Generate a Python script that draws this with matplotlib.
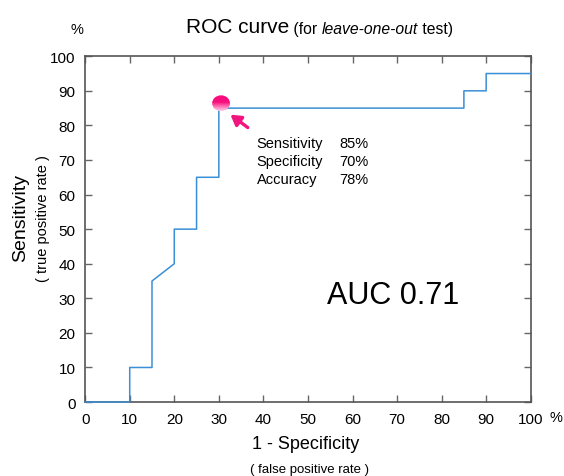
import matplotlib
matplotlib.use("Agg")
import matplotlib.pyplot as plt
import numpy as np
from matplotlib.patches import Ellipse
from matplotlib.colors import LinearSegmentedColormap

plt.rcParams['font.family'] = ['Liberation Sans', 'DejaVu Sans']

# ROC step curve (percent)
fpr = [0, 10, 10, 15, 15, 20, 20, 25, 25, 30, 30, 85, 85, 90, 90, 100]
tpr = [0, 0, 10, 10, 35, 40, 50, 50, 65, 65, 85, 85, 90, 90, 95, 95]
best_point = (30, 85)
stat_names = ["Sensitivity", "Specificity", "Accuracy"]
stat_values = ["85%", "70%", "78%"]
auc = 0.71

fig = plt.figure(figsize=(5.64, 4.77), dpi=100)
ax = fig.add_axes([0.151, 0.155, 0.790, 0.725])

ax.plot(fpr, tpr, color="#3a8fd6", lw=1.1, clip_on=False, zorder=3)

# gradient ball marking the chosen operating point
cx, cy = best_point[0] + 0.5, best_point[1] + 1.4
w, h = 4.0, 4.6
cmap = LinearSegmentedColormap.from_list("ball", [(0, "#ffd0e8"), (0.35, "#ff5aa8"),
                                                  (0.55, "#f5107c"), (1, "#ff0a80")])
grad = np.linspace(0, 1, 64).reshape(-1, 1)
im = ax.imshow(grad, cmap=cmap, extent=(cx - w / 2, cx + w / 2, cy - h / 2, cy + h / 2),
               origin="lower", aspect="auto", zorder=5, clip_on=True)
ell = Ellipse((cx, cy), w, h, transform=ax.transData, facecolor="none", edgecolor="none")
ax.add_patch(ell)
im.set_clip_path(ell)

ax.annotate("", xy=(32.1, 83.6), xytext=(37, 78.9),
            arrowprops=dict(arrowstyle="-|>,head_length=0.5,head_width=0.3",
                            color="#f0157f", lw=2.4, mutation_scale=12))

for i, (n, v) in enumerate(zip(stat_names, stat_values)):
    ax.text(38.5, 75 - i * 5.2, n, fontsize=10.5, va="center", ha="left")
    ax.text(57, 75 - i * 5.2, v, fontsize=10.5, va="center", ha="left")

ax.text(54.3, 31.0, f"AUC {auc:.2f}", fontsize=22, va="center", ha="left")

ax.set_xlim(0, 100)
ax.set_ylim(0, 100)
ax.set_xticks(range(0, 101, 10))
ax.set_yticks(range(0, 101, 10))
ax.tick_params(direction="in", top=True, right=True, length=5, width=1,
               color="#666666", labelsize=11, pad=7)
for s in ax.spines.values():
    s.set_color("#555555")
    s.set_linewidth(1.2)

fig.text(0.986, 0.124, "%", fontsize=10.5, ha="center", va="center")
fig.text(0.137, 0.937, "%", fontsize=10.5, ha="center", va="center")

t1 = fig.text(0.330, 0.931, "ROC curve", fontsize=15, ha="left", va="baseline")
t2 = ax.annotate(" (for ", xy=(1, 0), xycoords=t1, fontsize=11.3, va="bottom", ha="left")
t3 = ax.annotate("leave-one-out", xy=(1, 0), xycoords=t2, fontsize=11.3, va="bottom", ha="left", style="italic")
ax.annotate(" test)", xy=(1, 0), xycoords=t3, fontsize=11.3, va="bottom", ha="left")

fig.text(0.542, 0.068, "1 - Specificity", fontsize=13, ha="center", va="center")
fig.text(0.548, 0.015, "( false positive rate )", fontsize=9.5, ha="center", va="center")
fig.text(0.036, 0.543, "Sensitivity", fontsize=14, ha="center", va="center", rotation=90)
fig.text(0.077, 0.541, "( true positive rate )", fontsize=10.5, ha="center", va="center", rotation=90)

fig.savefig("out.png", dpi=100)
